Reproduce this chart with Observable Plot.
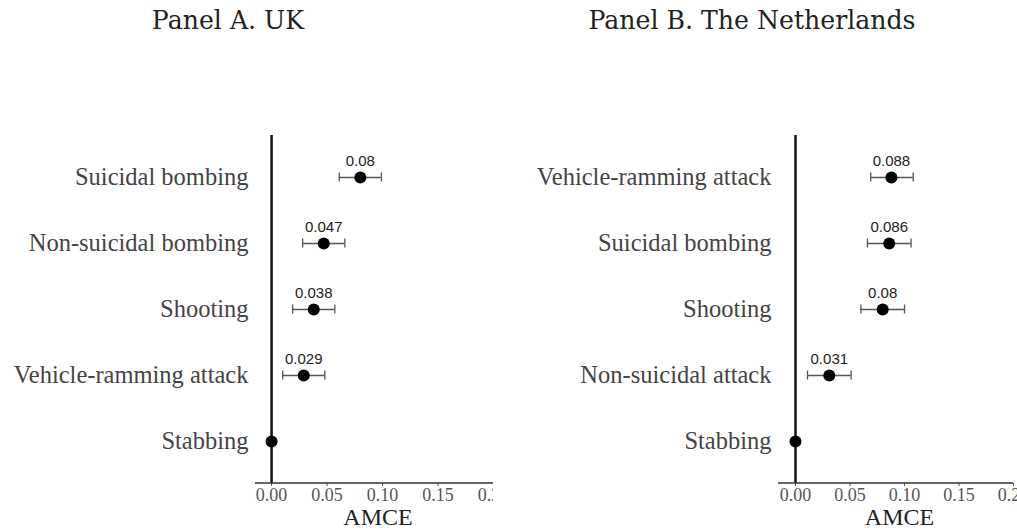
<!DOCTYPE html>
<html>
<head>
<meta charset="utf-8">
<script src="https://cdn.jsdelivr.net/npm/d3@7"></script>
<script src="https://cdn.jsdelivr.net/npm/@observablehq/plot@0.6"></script>
<style>
  html, body { margin: 0; padding: 0; background: white; }
  #root { position: relative; width: 1017px; height: 532px; overflow: hidden; background: white; }
  .panel { position: absolute; top: 0; height: 532px; }
  .title { position: absolute; top: 3px; font-family: "DejaVu Serif", serif; font-size: 25.2px; color: #222; white-space: nowrap; transform: translateX(-50%); line-height: 36px; }
  .chart { position: absolute; left: 0; top: 50px; }
</style>
</head>
<body>
<div id="root"></div>
<script>
// ---- Data ----
const ukCategories = ["Suicidal bombing", "Non-suicidal bombing", "Shooting", "Vehicle-ramming attack", "Stabbing"];
const ukEstimates  = [0.08, 0.047, 0.038, 0.029, 0];
const ukLower      = [0.061, 0.028, 0.019, 0.010, null];
const ukUpper      = [0.099, 0.066, 0.057, 0.048, null];
const ukLabels     = ["0.08", "0.047", "0.038", "0.029", ""];

const nlCategories = ["Vehicle-ramming attack", "Suicidal bombing", "Shooting", "Non-suicidal attack", "Stabbing"];
const nlEstimates  = [0.088, 0.086, 0.08, 0.031, 0];
const nlLower      = [0.069, 0.066, 0.060, 0.011, null];
const nlUpper      = [0.108, 0.106, 0.100, 0.051, null];
const nlLabels     = ["0.088", "0.086", "0.08", "0.031", ""];

const xTicks = [0, 0.05, 0.10, 0.15, 0.20];
const xLabel = "AMCE";
const titles = ["Panel A. UK", "Panel B. The Netherlands"];

function makePanel(categories, est, lo, hi, labels, cfg) {
  const rows = categories.map((c, i) => ({category: c, est: est[i], lo: lo[i], hi: hi[i], label: labels[i]}));
  const ci = rows.filter(d => d.lo != null);
  const H = 482;
  const plot = Plot.plot({
    width: cfg.width,
    height: H,
    marginLeft: cfg.marginLeft,
    marginRight: cfg.marginRight,
    marginTop: 85,
    marginBottom: 49,
    style: {background: "white", overflow: "hidden"},
    x: {domain: [cfg.xmin, 0.2]},
    y: {type: "band", domain: categories, range: [92.7, 426.1], padding: 0},
    marks: [
      Plot.ruleX([0], {stroke: "#111", strokeWidth: 2.5}),
      Plot.ruleY(ci, {y: "category", x1: "lo", x2: "hi", stroke: "#555", strokeWidth: 1.3}),
      Plot.tickX(ci, {x: "lo", y: "category", stroke: "#555", strokeWidth: 1.3, insetTop: 28.5, insetBottom: 28.5}),
      Plot.tickX(ci, {x: "hi", y: "category", stroke: "#555", strokeWidth: 1.3, insetTop: 28.5, insetBottom: 28.5}),
      Plot.dot(rows, {x: "est", y: "category", r: 6, fill: "black", stroke: "none"}),
      Plot.text(ci, {x: "est", y: "category", text: "label", dy: -12, lineAnchor: "bottom",
                     fontFamily: "Liberation Sans, Arial, sans-serif", fontSize: 15, fill: "#222"}),
      Plot.axisY({tickSize: 0, tickPadding: 7, fontSize: 24.5, fontFamily: "Liberation Serif, serif", fill: "#444", label: null}),
      Plot.axisX({ticks: xTicks, tickFormat: d3.format(".2f"), tickSize: 3, tickPadding: 2, fontSize: 18,
                  fontFamily: "Liberation Serif, serif", fill: "#555", stroke: "#555", label: null})
    ]
  });
  // x-axis baseline along the bottom of the frame
  const r = plot.scale("x").range;
  const svg = d3.select(plot);
  svg.append("line")
    .attr("x1", r[0]).attr("x2", r[1])
    .attr("y1", H - 49).attr("y2", H - 49)
    .attr("stroke", "#333").attr("stroke-width", 1.5);
  svg.append("text")
    .attr("x", (r[0] + r[1]) / 2 + 4).attr("y", H - 7)
    .attr("text-anchor", "middle")
    .attr("font-family", "Liberation Serif, serif")
    .attr("font-size", 24)
    .attr("fill", "#222")
    .text(xLabel);
  return plot;
}

const root = document.getElementById("root");

function addPanel(left, width, title, titleCenter, plot) {
  const p = document.createElement("div");
  p.className = "panel";
  p.style.left = left + "px";
  p.style.width = width + "px";
  const t = document.createElement("div");
  t.className = "title";
  t.style.left = (titleCenter - left) + "px";
  t.textContent = title;
  p.appendChild(t);
  const c = document.createElement("div");
  c.className = "chart";
  c.appendChild(plot);
  p.appendChild(c);
  root.appendChild(p);
}

addPanel(0, 493, titles[0], 228,
  makePanel(ukCategories, ukEstimates, ukLower, ukUpper, ukLabels, {width: 493, marginLeft: 255, marginRight: 0, xmin: -0.0145}));
addPanel(520, 497, titles[1], 752,
  makePanel(nlCategories, nlEstimates, nlLower, nlUpper, nlLabels, {width: 497, marginLeft: 258, marginRight: 4, xmin: -0.0156}));
</script>
</body>
</html>
